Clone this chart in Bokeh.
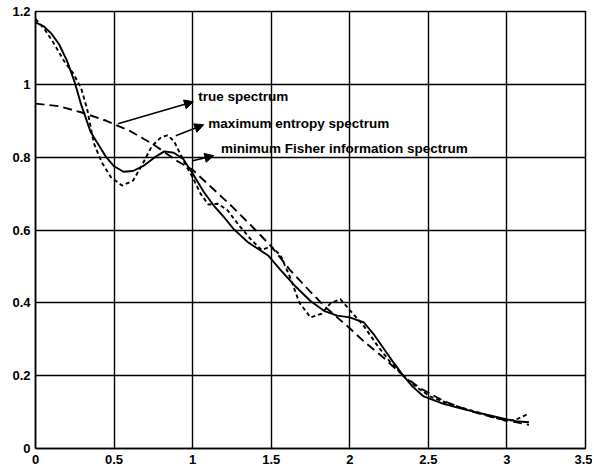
from bokeh.plotting import figure
from bokeh.models import FixedTicker, Range1d, Arrow, NormalHead, Label
from bokeh.embed import file_html
from bokeh.resources import INLINE

# ---- data ----
x_true = [0, 0.15, 0.3, 0.45, 0.6, 0.75, 0.9, 1.0, 1.1, 1.25, 1.4, 1.5, 1.62,
          1.75, 1.84, 2.0, 2.1, 2.2, 2.34, 2.45, 2.6, 2.75, 2.9, 3.0, 3.14]
y_true = [0.947, 0.94, 0.922, 0.9, 0.872, 0.835, 0.79, 0.765, 0.725, 0.665, 0.6,
          0.555, 0.49, 0.43, 0.39, 0.33, 0.29, 0.255, 0.2, 0.165, 0.13, 0.105,
          0.087, 0.077, 0.065]

x_fisher = [0, 0.05, 0.1, 0.15, 0.2, 0.25, 0.29, 0.35, 0.4, 0.45, 0.5, 0.56, 0.62,
            0.69, 0.76, 0.82, 0.88, 0.94, 1.0, 1.07, 1.14, 1.2, 1.26, 1.35, 1.48,
            1.56, 1.65, 1.75, 1.84, 1.92, 2.0, 2.09, 2.15, 2.22, 2.28, 2.34, 2.4,
            2.47, 2.58, 2.68, 2.8, 2.9, 3.0, 3.06, 3.14]
y_fisher = [1.17, 1.16, 1.14, 1.11, 1.065, 1.005, 0.945, 0.87, 0.835, 0.80, 0.775,
            0.76, 0.762, 0.777, 0.80, 0.816, 0.812, 0.795, 0.755, 0.705, 0.664,
            0.635, 0.603, 0.567, 0.53, 0.49, 0.447, 0.405, 0.377, 0.365, 0.36,
            0.346, 0.315, 0.272, 0.235, 0.2, 0.17, 0.143, 0.125, 0.113, 0.1, 0.09,
            0.08, 0.075, 0.072]

x_maxent = [0, 0.06, 0.12, 0.18, 0.24, 0.29, 0.33, 0.37, 0.42, 0.48, 0.55, 0.62,
            0.68, 0.74, 0.8, 0.84, 0.88, 0.92, 0.96, 1.0, 1.05, 1.1, 1.16, 1.22,
            1.3, 1.38, 1.44, 1.5, 1.56, 1.62, 1.68, 1.75, 1.82, 1.88, 1.94, 2.0,
            2.09, 2.18, 2.26, 2.34, 2.42, 2.51, 2.65, 2.81, 2.92, 3.0, 3.06, 3.13]
y_maxent = [1.18, 1.15, 1.11, 1.065, 1.03, 0.99, 0.93, 0.84, 0.787, 0.745, 0.722,
            0.735, 0.78, 0.83, 0.855, 0.86, 0.845, 0.81, 0.775, 0.745, 0.70, 0.67,
            0.672, 0.655, 0.61, 0.57, 0.545, 0.555, 0.53, 0.47, 0.40, 0.36, 0.37,
            0.40, 0.41, 0.38, 0.336, 0.28, 0.236, 0.2, 0.17, 0.143, 0.12, 0.10,
            0.085, 0.075, 0.08, 0.094]

x_ticks = [0, 0.5, 1, 1.5, 2, 2.5, 3, 3.5]
x_tick_labels = ["0", "0.5", "1", "1.5", "2", "2.5", "3", "3.5"]
y_ticks = [0, 0.2, 0.4, 0.6, 0.8, 1.0, 1.2]
y_tick_labels = ["0", "0.2", "0.4", "0.6", "0.8", "1", "1.2"]

# annotations: text, text position, arrow start, arrow end
ann_texts = ["true spectrum", "maximum entropy spectrum",
             "minimum Fisher information spectrum"]
ann_text_x = [1.035, 1.10, 1.18]
ann_text_y = [0.966, 0.892, 0.823]
arrow_x0 = [0.525, 0.893, 1.0]
arrow_y0 = [0.892, 0.859, 0.79]
arrow_x1 = [1.005, 1.07, 1.135]
arrow_y1 = [0.952, 0.889, 0.804]

FONT = "Liberation Sans"

p = figure(width=592, height=468, output_backend="svg", toolbar_location=None,
           x_range=Range1d(0, 3.5), y_range=Range1d(0, 1.2),
           min_border_left=35, min_border_right=7, min_border_top=11,
           min_border_bottom=20)
p.background_fill_color = "white"
p.border_fill_color = "white"
p.outline_line_color = "black"
p.outline_line_width = 1.5

for ax, ticks, labels in ((p.xaxis[0], x_ticks, x_tick_labels),
                          (p.yaxis[0], y_ticks, y_tick_labels)):
    ax.ticker = FixedTicker(ticks=ticks)
    ax.major_label_overrides = {t: l for t, l in zip(ticks, labels)}
    ax.major_tick_in = 0
    ax.major_tick_out = 0
    ax.minor_tick_in = 0
    ax.minor_tick_out = 0
    ax.axis_line_color = "black"
    ax.axis_line_width = 1.5
    ax.major_label_text_font = FONT
    ax.major_label_text_font_style = "bold"
    ax.major_label_text_font_size = "13px"
    ax.major_label_text_color = "black"
p.xaxis.major_label_standoff = 6
p.yaxis.major_label_standoff = 5

p.xgrid.ticker = FixedTicker(ticks=x_ticks)
p.ygrid.ticker = FixedTicker(ticks=y_ticks)
for g in (p.xgrid[0], p.ygrid[0]):
    g.grid_line_color = "black"
    g.grid_line_width = 1.4
    g.grid_line_alpha = 1.0

p.line(x_true, y_true, line_color="black", line_width=1.9, line_dash="9 5")
p.line(x_maxent, y_maxent, line_color="black", line_width=1.9, line_dash="4 3")
p.line(x_fisher, y_fisher, line_color="black", line_width=1.9)

for i in range(len(ann_texts)):
    p.add_layout(Arrow(end=NormalHead(size=9, fill_color="black", line_color="black"),
                       x_start=arrow_x0[i], y_start=arrow_y0[i],
                       x_end=arrow_x1[i], y_end=arrow_y1[i],
                       line_color="black", line_width=1.5))
    p.add_layout(Label(x=ann_text_x[i], y=ann_text_y[i], text=ann_texts[i],
                       text_font=FONT, text_font_style="bold",
                       text_font_size="13.5px", text_baseline="middle",
                       text_color="black"))

open("out.html", "w").write(file_html(p, INLINE))
